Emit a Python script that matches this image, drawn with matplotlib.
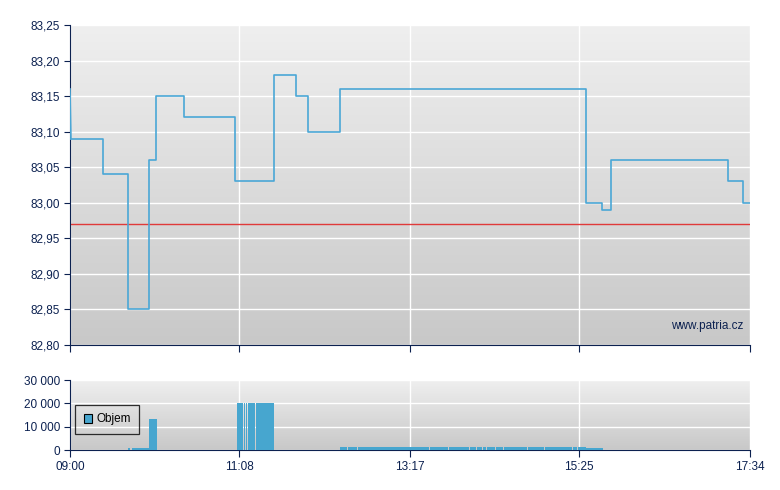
import numpy as np
import matplotlib.pyplot as plt
from matplotlib.colors import LinearSegmentedColormap
from matplotlib.ticker import FuncFormatter

plt.rcParams["font.family"] = ["Liberation Sans", "DejaVu Sans"]

# price steps (time of change, new price)
price_t = ["09:00", "09:25", "09:44", "10:00", "10:05", "10:26", "11:05", "11:34",
           "11:51", "12:00", "12:24", "15:30", "15:42", "15:49", "17:17", "17:29", "17:34"]
price_v = [83.09, 83.04, 82.85, 83.06, 83.15, 83.12, 83.03, 83.18,
           83.15, 83.10, 83.16, 83.00, 82.99, 83.06, 83.03, 83.00, 83.00]
open_v = 83.16
prev_close = 82.97

# volume bars (start minute, end minute, volume)
vol_start = [44.1, 47.1, 59.7, 126.2, 131.5, 133.0, 134.5, 140.6,
             204.1, 210.2, 217.5, 271.9, 280.7, 286.3, 288.3, 302.1, 307.7, 311.0,
             312.2, 315.3, 322.1, 327.8, 346.3, 351.8, 358.8, 380.0, 383.8, 389.8]
vol_end = [45.0, 59.5, 65.5, 131.0, 132.3, 133.8, 140.0, 154.2,
           209.6, 217.0, 271.3, 280.1, 285.7, 287.7, 301.5, 307.1, 310.4, 311.6,
           314.7, 321.5, 327.2, 345.7, 351.2, 358.2, 379.4, 383.2, 389.8, 402.6]
vol_v = [900, 1000, 13500, 20200, 20200, 20200, 20200, 20200,
         1300, 1300, 1300, 1300, 1300, 1300, 1300, 1300, 1300, 1300,
         1300, 1300, 1300, 1300, 1300, 1300, 1300, 1300, 1300, 900]

x_ticks = ["09:00", "11:08", "13:17", "15:25", "17:34"]


def to_min(s):
    h, m = s.split(":")
    return (int(h) - 9) * 60 + int(m)


navy = "#0c2150"
line_c = "#4aa7d6"
bg = LinearSegmentedColormap.from_list("bg", ["#c8c8c8", "#efefef"])

fig = plt.figure(figsize=(7.8, 4.9), dpi=100)
ax1 = fig.add_axes([70 / 780, 1 - 345 / 490, 680 / 780, 320 / 490])
ax2 = fig.add_axes([70 / 780, 1 - 450 / 490, 680 / 780, 70 / 490])

xt = [to_min(s) for s in x_ticks]
for ax in (ax1, ax2):
    ax.imshow(np.linspace(0, 1, 256)[:, None], extent=[0, 1, 0, 1], origin="lower",
              aspect="auto", cmap=bg, transform=ax.transAxes, zorder=0)
    for s in ("top", "right"):
        ax.spines[s].set_visible(False)
    for s in ("left", "bottom"):
        ax.spines[s].set_color(navy)
    ax.tick_params(colors=navy, labelcolor=navy, labelsize=8.5, pad=3)
    ax.tick_params(axis="y", length=4)
    ax.tick_params(axis="x", length=5)
    ax.set_xlim(0, xt[-1])
    ax.set_xticks(xt)
    ax.grid(True, color="white", lw=1)
    ax.set_axisbelow(True)

# price chart
pt = [to_min(s) for s in price_t]
ax1.plot([0, 0.7], [open_v, price_v[0]], color=line_c, lw=1.2, zorder=3)
ax1.step(pt, price_v, where="post", color=line_c, lw=1.2, zorder=3)
ax1.axhline(prev_close, color="#e03a3a", lw=1, zorder=2)
ax1.set_ylim(82.80, 83.25)
ax1.set_yticks(np.arange(82.80, 83.2501, 0.05))
ax1.yaxis.set_major_formatter(FuncFormatter(lambda v, p: f"{v:.2f}".replace(".", ",")))
ax1.set_xticklabels([])
ax1.text(0.99, 0.06, "www.patria.cz", transform=ax1.transAxes, ha="right",
         va="center", color=navy, fontsize=8.5)

# volume chart
ax2.bar(vol_start, vol_v, width=np.array(vol_end) - np.array(vol_start), align="edge",
        color="#47a6cf", label="Objem", zorder=3)
ax2.set_ylim(0, 30000)
ax2.set_yticks([0, 10000, 20000, 30000])
ax2.yaxis.set_major_formatter(FuncFormatter(lambda v, p: f"{int(v):,}".replace(",", " ")))
ax2.set_xticklabels(x_ticks)
leg = ax2.legend(loc="upper left", bbox_to_anchor=(0.007, 0.65), fontsize=8.5,
                 frameon=True, fancybox=False, edgecolor="black",
                 handlelength=0.75, handleheight=0.75, handletextpad=0.3,
                 borderpad=0.75, borderaxespad=0)
leg.get_frame().set_facecolor("none")
leg.get_frame().set_linewidth(0.9)
for h in leg.legend_handles:
    h.set_edgecolor("black")
    h.set_linewidth(0.8)

fig.savefig("out.png", dpi=100)
